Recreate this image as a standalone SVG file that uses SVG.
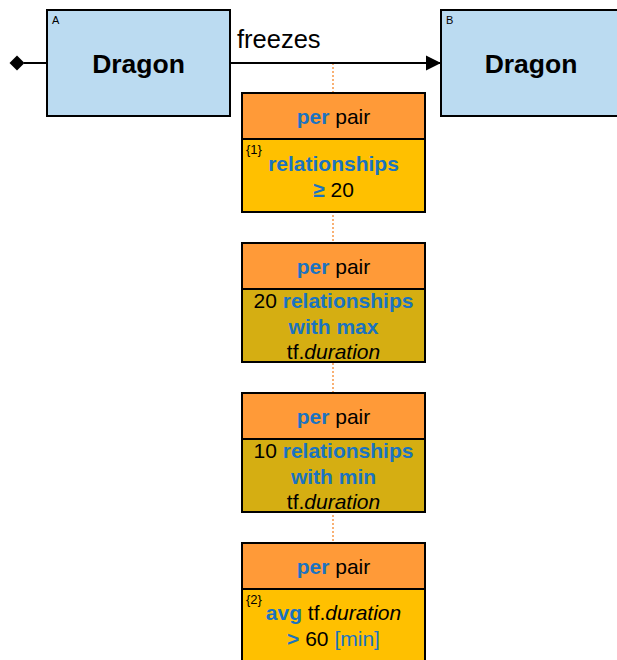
<svg xmlns="http://www.w3.org/2000/svg" width="617" height="660" viewBox="0 0 617 660">
<style>
.ent{fill:#BBDBF1;stroke:#000;stroke-width:2}
.hdr{fill:#FF9A38;stroke:#000;stroke-width:2}
.bd1{fill:#FFC000;stroke:#000;stroke-width:2}
.bd2{fill:#D5AE12;stroke:#000;stroke-width:2}
.t{font-family:"Liberation Sans",Arial,sans-serif;font-size:21px;fill:#000;text-anchor:middle}
.b{font-weight:bold;fill:#1A73C0}
.big{font-family:"Liberation Sans",Arial,sans-serif;font-size:26.5px;font-weight:bold;text-anchor:middle}
.lbl{font-family:"Liberation Sans",Arial,sans-serif;font-size:11px}
.sm{font-family:"Liberation Sans",Arial,sans-serif;font-size:13px}
.i{font-style:italic}
</style>
<defs>
<marker id="arr" markerWidth="16" markerHeight="16" refX="15" refY="8" orient="auto" markerUnits="userSpaceOnUse"><path d="M0,0.5 L15,8 L0,15.5 Z" fill="#000"/></marker>
</defs>
<g id="connectors">
<line x1="333" y1="63" x2="333" y2="545" stroke="#F79646" stroke-width="1.5" stroke-dasharray="2,2"/>
<line x1="24" y1="63" x2="47" y2="63" stroke="#000" stroke-width="2"/>
<path d="M9.5,63 L17,55.5 L24.5,63 L17,70.5 Z" fill="#000"/>
<line x1="230" y1="63" x2="441" y2="63" stroke="#000" stroke-width="2" marker-end="url(#arr)"/>
<text x="237" y="48" font-family="Liberation Sans,Arial,sans-serif" font-size="25.5">freezes</text>
</g>
<g id="nodeA">
<rect class="ent" x="47" y="10" width="183" height="106"/>
<text class="lbl" x="52" y="24">A</text>
<text class="big" x="138.5" y="73">Dragon</text>
</g>
<g id="nodeB">
<rect class="ent" x="441" y="10" width="183" height="106"/>
<text class="lbl" x="446" y="24">B</text>
<text class="big" x="531" y="73">Dragon</text>
</g>
<g id="filter1">
<rect class="hdr" x="242" y="93" width="183" height="46"/>
<rect class="bd1" x="242" y="139" width="183" height="73"/>
<text class="t" x="333.5" y="124"><tspan class="b">per</tspan> pair</text>
<text class="sm" x="246" y="154">{1}</text>
<text class="t" x="333.5" y="171"><tspan class="b">relationships</tspan></text>
<text class="t" x="333.5" y="197"><tspan class="b">≥</tspan> 20</text>
</g>
<g id="filter2">
<rect class="hdr" x="242" y="243" width="183" height="46"/>
<rect class="bd2" x="242" y="289" width="183" height="73"/>
<text class="t" x="333.5" y="274"><tspan class="b">per</tspan> pair</text>
<text class="t" x="333.5" y="308">20 <tspan class="b">relationships</tspan></text>
<text class="t" x="333.5" y="334"><tspan class="b">with max</tspan></text>
<text class="t" x="333.5" y="359">tf.<tspan class="i">duration</tspan></text>
</g>
<g id="filter3">
<rect class="hdr" x="242" y="393" width="183" height="46"/>
<rect class="bd2" x="242" y="439" width="183" height="73"/>
<text class="t" x="333.5" y="424"><tspan class="b">per</tspan> pair</text>
<text class="t" x="333.5" y="458">10 <tspan class="b">relationships</tspan></text>
<text class="t" x="333.5" y="484"><tspan class="b">with min</tspan></text>
<text class="t" x="333.5" y="509">tf.<tspan class="i">duration</tspan></text>
</g>
<g id="filter4">
<rect class="hdr" x="242" y="543" width="183" height="46"/>
<rect class="bd1" x="242" y="589" width="183" height="90"/>
<text class="t" x="333.5" y="574"><tspan class="b">per</tspan> pair</text>
<text class="sm" x="246" y="604">{2}</text>
<text class="t" x="333.5" y="620"><tspan class="b">avg</tspan> tf.<tspan class="i">duration</tspan></text>
<text class="t" x="333.5" y="646"><tspan class="b">&gt;</tspan> 60 <tspan fill="#1A73C0">[min]</tspan></text>
</g>
</svg>
